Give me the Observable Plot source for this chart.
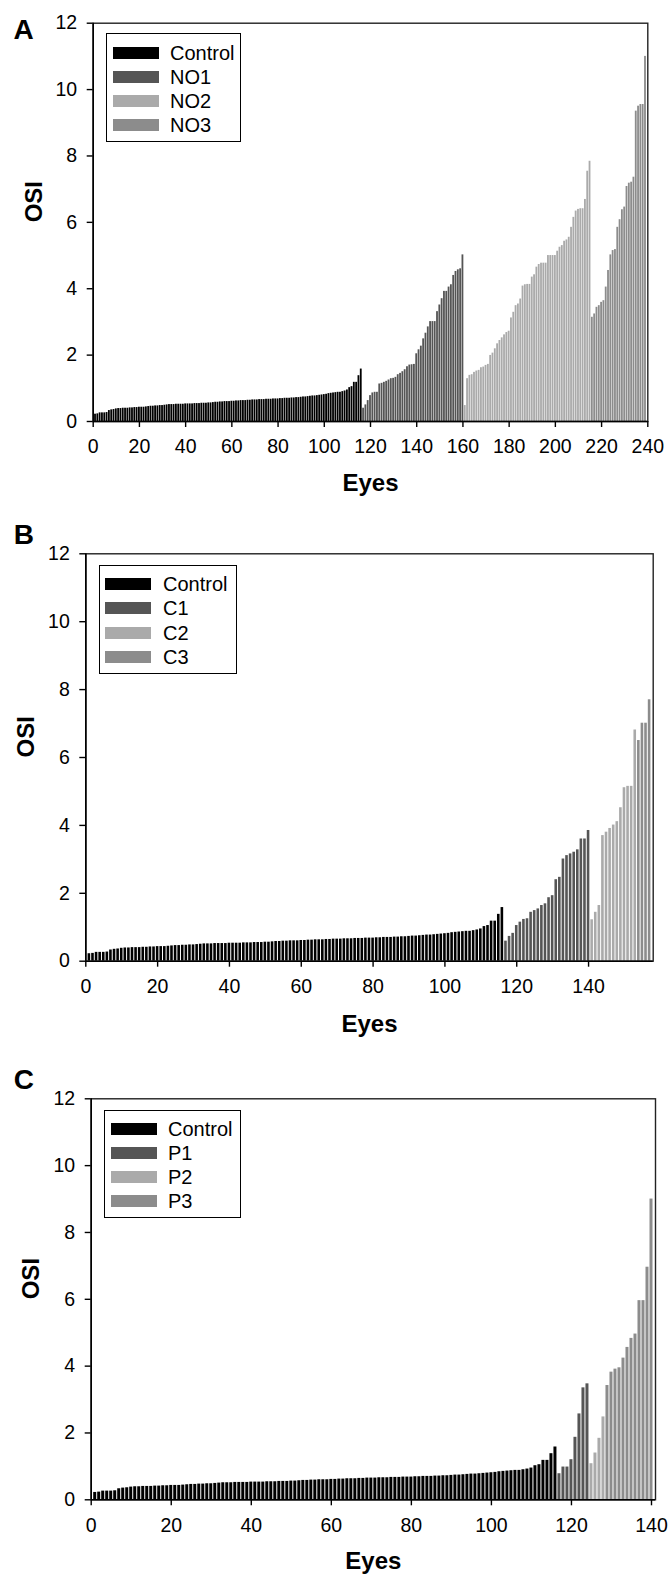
<!DOCTYPE html>
<html>
<head>
<meta charset="utf-8">
<script src="https://cdn.jsdelivr.net/npm/d3@7"></script>
<script src="https://cdn.jsdelivr.net/npm/@observablehq/plot@0.6"></script>
<style>
  html, body { margin: 0; padding: 0; background: #fff; }
  #page { position: relative; width: 668px; height: 1580px; font-family: "Liberation Sans", Arial, sans-serif; }
  .panel { position: absolute; left: 0; width: 668px; }
  .panel svg { display: block; }
  .legend { position: absolute; box-sizing: border-box; border: 1.4px solid #000; background: #fff; }
  .legend .sw { position: absolute; height: 12px; width: 46px; }
  .legend .lb { position: absolute; font-size: 20px; line-height: 20px; color: #000; white-space: nowrap; }
</style>
</head>
<body>
<div id="page"></div>
<script>
// ---------- data (OSI per eye, sorted within each group) ----------
const control = [
  0.22,0.23,0.26,0.26,0.26,0.27,0.33,0.35,0.36,0.38,
  0.39,0.39,0.40,0.40,0.40,0.41,0.41,0.42,0.42,0.43,
  0.43,0.43,0.44,0.45,0.46,0.46,0.47,0.47,0.48,0.48,
  0.49,0.50,0.51,0.51,0.51,0.52,0.52,0.52,0.52,0.53,
  0.53,0.53,0.53,0.54,0.54,0.54,0.55,0.55,0.55,0.56,
  0.56,0.57,0.58,0.58,0.59,0.59,0.60,0.60,0.60,0.61,
  0.61,0.62,0.62,0.63,0.63,0.63,0.64,0.64,0.65,0.65,
  0.65,0.66,0.66,0.66,0.67,0.67,0.67,0.68,0.68,0.68,
  0.69,0.69,0.70,0.70,0.70,0.71,0.71,0.72,0.72,0.73,
  0.74,0.74,0.75,0.76,0.77,0.77,0.78,0.79,0.80,0.81,
  0.82,0.84,0.85,0.86,0.87,0.88,0.88,0.90,0.92,0.95,
  1.02,1.05,1.18,1.18,1.38,1.58
];
const no1 = [
  0.40,0.50,0.63,0.78,0.86,0.88,0.88,1.13,1.15,1.18,
  1.21,1.25,1.29,1.30,1.33,1.41,1.45,1.50,1.56,1.65,
  1.70,1.71,1.72,2.04,2.16,2.27,2.49,2.66,2.85,3.01,
  3.01,3.01,3.31,3.51,3.70,3.92,3.92,4.05,4.12,4.40,
  4.52,4.57,4.60,5.02
];
const no2 = [
  0.48,1.29,1.39,1.41,1.48,1.52,1.54,1.62,1.64,1.69,
  1.72,1.99,2.06,2.19,2.34,2.44,2.52,2.61,2.68,2.72,
  3.12,3.29,3.49,3.54,3.69,4.08,4.12,4.13,4.13,4.35,
  4.42,4.65,4.73,4.77,4.77,4.77,5.00,5.00,5.00,5.00,
  5.13,5.25,5.30,5.43,5.47,5.55,5.85,6.15,6.34,6.39,
  6.41,6.41,6.69,7.54,7.84
];
const no3 = [
  3.14,3.24,3.44,3.49,3.59,3.64,4.05,4.55,5.02,5.15,
  5.18,5.85,6.08,6.38,6.46,7.08,7.18,7.21,7.36,9.35,
  9.50,9.55,9.55,11.00
];
const c1 = [
  0.59,0.73,0.82,1.05,1.15,1.23,1.25,1.44,1.49,1.54,
  1.64,1.69,1.87,1.93,2.40,2.47,3.01,3.11,3.16,3.21,
  3.28,3.60,3.60,3.85
];
const c2 = [1.22,1.44,1.64,3.70,3.80,3.91,4.01,4.11,4.52,5.11,5.15,5.15,6.81];
const c3 = [6.50,7.01,7.01,7.70];
const p1 = [0.78,0.98,0.98,1.20,1.87,2.57,3.35,3.47];
const p2 = [1.08,1.40,1.84,2.48];
const p3 = [3.42,3.82,3.91,3.95,4.24,4.56,4.83,4.96,5.96,5.96,6.96,9.00];

const namesA = ["Control","NO1","NO2","NO3"];
const namesB = ["Control","C1","C2","C3"];
const namesC = ["Control","P1","P2","P3"];
const groupColors = ["#000000","#555555","#aaaaaa","#8c8c8c"];
const yTicks = [0,2,4,6,8,10,12];
const xTicksA = [0,20,40,60,80,100,120,140,160,180,200,220,240];
const xTicksBC = [0,20,40,60,80,100,120,140];

// ---------- helpers ----------
function rowsOf(groups, names) {
  const rows = [];
  let eye = 0;
  groups.forEach((g, gi) => g.forEach(v => { eye += 1; rows.push({eye, osi: v, group: names[gi]}); }));
  return rows;
}

const FONT = "Liberation Sans, Arial, Helvetica, sans-serif";

function makePanel(cfg) {
  const rows = rowsOf(cfg.groups, cfg.names);
  return Plot.plot({
    width: 668,
    height: cfg.height,
    marginTop: cfg.mt, marginBottom: cfg.mb, marginLeft: cfg.ml, marginRight: cfg.mr,
    style: {fontFamily: FONT, fontSize: "19px", color: "#000", background: "#fff", overflow: "visible"},
    x: {domain: [0, cfg.xMax], label: null},
    y: {domain: [0, 12], label: null},
    color: {domain: cfg.names, range: groupColors},
    marks: [
      Plot.rect(rows, {
        x1: d => d.eye - 0.5, x2: d => d.eye + 0.5,
        y1: () => 0, y2: "osi",
        fill: "group",
        insetLeft: cfg.inset, insetRight: cfg.inset
      }),
      Plot.frame({stroke: "#222", strokeWidth: 1.4}),
      Plot.ruleX([0], {stroke: "#000", strokeWidth: 1.6}),
      Plot.ruleY([0], {stroke: "#000", strokeWidth: 1.6}),
      Plot.axisX({ticks: cfg.xTicks, tickSize: 6, tickPadding: 12, tickFormat: d => String(d), fontSize: 19.5, stroke: "#000", strokeWidth: 1.4}),
      Plot.axisY({ticks: yTicks, tickSize: 6, tickPadding: 10, tickFormat: d => String(d), fontSize: 19.5, stroke: "#000", strokeWidth: 1.4}),
      Plot.text(["Eyes"], {text: d => d, frameAnchor: "bottom", lineAnchor: "bottom", dy: cfg.eyesDy, fontSize: 24, fontWeight: "bold", fill: "#000"}),
      Plot.text(["OSI"], {text: d => d, frameAnchor: "left", lineAnchor: "bottom", rotate: -90, dx: cfg.osiDx, fontSize: 24, fontWeight: "bold", fill: "#000"}),
      Plot.text([cfg.letter], {text: d => d, frameAnchor: "top-left", textAnchor: "start", lineAnchor: "bottom", dx: cfg.letterDx, dy: cfg.letterDy, fontSize: 28, fontWeight: "bold", fill: "#000"})
    ]
  });
}

function addLegend(page, names, box) {
  const lg = document.createElement("div");
  lg.className = "legend";
  lg.style.left = box.left + "px";
  lg.style.top = box.top + "px";
  lg.style.width = box.width + "px";
  lg.style.height = box.height + "px";
  names.forEach((n, i) => {
    const cy = box.row0 + i * box.step;
    const sw = document.createElement("div");
    sw.className = "sw";
    sw.style.left = box.swLeft + "px";
    sw.style.top = (cy - 6) + "px";
    sw.style.background = groupColors[i];
    lg.appendChild(sw);
    const lb = document.createElement("div");
    lb.className = "lb";
    lb.style.left = box.lbLeft + "px";
    lb.style.top = (cy - 10) + "px";
    lb.textContent = n;
    lg.appendChild(lb);
  });
  page.appendChild(lg);
}

const page = document.getElementById("page");

const panels = [
  {top: 0, height: 520, mt: 22.7, mb: 99, ml: 92.7, mr: 20.7, xMax: 240, xTicks: xTicksA,
   groups: [control, no1, no2, no3], names: namesA, inset: 0.25,
   eyesDy: 69, osiDx: -50.7, letter: "A", letterDx: -79.7, letterDy: 15.6,
   legend: {left: 106, top: 33.3, width: 135.3, height: 108.4, row0: 19, step: 23.8, swLeft: 6, lbLeft: 63}},
  {top: 520, height: 530, mt: 33.3, mb: 89.3, ml: 85.3, mr: 15.3, xMax: 158, xTicks: xTicksBC,
   groups: [control, c1, c2, c3], names: namesB, inset: 0.5,
   eyesDy: 71, osiDx: -52, letter: "B", letterDx: -72, letterDy: -10,
   legend: {left: 99, top: 565, width: 137.7, height: 109.3, row0: 17.7, step: 24.4, swLeft: 5.3, lbLeft: 63}},
  {top: 1050, height: 530, mt: 48.3, mb: 80.7, ml: 90.7, mr: 13, xMax: 141, xTicks: xTicksBC,
   groups: [control, p1, p2, p3], names: namesC, inset: 0.5,
   eyesDy: 69, osiDx: -52.4, letter: "C", letterDx: -77.4, letterDy: -10,
   legend: {left: 104, top: 1110, width: 137.3, height: 107.7, row0: 18.3, step: 23.9, swLeft: 5.7, lbLeft: 63}}
];

panels.forEach(cfg => {
  const holder = document.createElement("div");
  holder.className = "panel";
  holder.style.top = cfg.top + "px";
  holder.style.height = cfg.height + "px";
  holder.appendChild(makePanel(cfg));
  page.appendChild(holder);
  addLegend(page, cfg.names, cfg.legend);
});
</script>
</body>
</html>
